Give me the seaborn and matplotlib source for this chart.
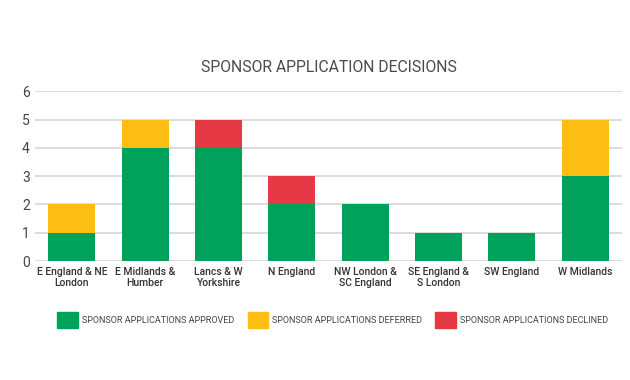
import matplotlib
matplotlib.use("Agg")
import matplotlib.pyplot as plt
import matplotlib.patches as mpatches
import pandas as pd
import seaborn as sns

# ======================================================
# DATA
# ======================================================

regions = [
    "E England & NE\nLondon",
    "E Midlands &\nHumber",
    "Lancs & W\nYorkshire",
    "N England",
    "NW London &\nSC England",
    "SE England &\nS London",
    "SW England",
    "W Midlands",
]
approved = [1, 4, 4, 2, 2, 1, 1, 3]
deferred = [1, 1, 0, 0, 0, 0, 0, 2]
declined = [0, 0, 1, 1, 0, 0, 0, 0]

series_labels = [
    "SPONSOR APPLICATIONS APPROVED",
    "SPONSOR APPLICATIONS DEFERRED",
    "SPONSOR APPLICATIONS DECLINED",
]
colours = ["#00A15A", "#FCBE12", "#E63946"]

df = pd.DataFrame({
    "region": regions,
    "approved": approved,
    "deferred": deferred,
    "declined": declined,
})

# ======================================================
# PLOT
# ======================================================

sns.set_theme(style="white")
plt.rcParams["font.family"] = ["Roboto", "DejaVu Sans"]

fig = plt.figure(figsize=(6.3, 3.8), dpi=100)
ax = fig.add_axes([0.056, 0.313, 0.931, 0.447])

bottoms = [0] * len(regions)
for col, colour in zip(["approved", "deferred", "declined"], colours):
    sns.barplot(
        data=df, x="region", y=col, color=colour, bottom=bottoms,
        width=0.64, saturation=1, linewidth=0, ax=ax, zorder=3,
    )
    bottoms = [b + v for b, v in zip(bottoms, df[col])]

ax.set_xlim(-0.5, len(regions) - 0.5)
ax.set_ylim(0, 6)
ax.set_yticks(range(0, 7))
ax.yaxis.grid(True, color="#d9d9d9", linewidth=1.3, zorder=0)
ax.set_axisbelow(True)
sns.despine(ax=ax, left=True, bottom=True)
ax.set_xlabel("")
ax.set_ylabel("")
ax.tick_params(axis="both", length=0)
ax.tick_params(axis="y", pad=4, labelsize=10, labelcolor="#444444")
ax.tick_params(axis="x", pad=4)
for lab in ax.get_xticklabels():
    lab.set_fontsize(7.5)
    lab.set_fontweight("medium")
    lab.set_color("#333333")
    lab.set_linespacing(1.15)

ax.set_title("SPONSOR APPLICATION DECISIONS", fontsize=11.3, color="#4a4a4a", pad=14)

handles = [mpatches.Patch(color=c, label=l) for c, l in zip(colours, series_labels)]
fig.legend(
    handles=handles,
    loc="center",
    bbox_to_anchor=(0.528, 0.158),
    ncol=3,
    frameon=False,
    prop={"size": 6.5},
    labelcolor="#444444",
    handlelength=2.3,
    handleheight=2.4,
    handletextpad=0.4,
    columnspacing=1.5,
)

fig.savefig("out.png", dpi=100, facecolor="white")
